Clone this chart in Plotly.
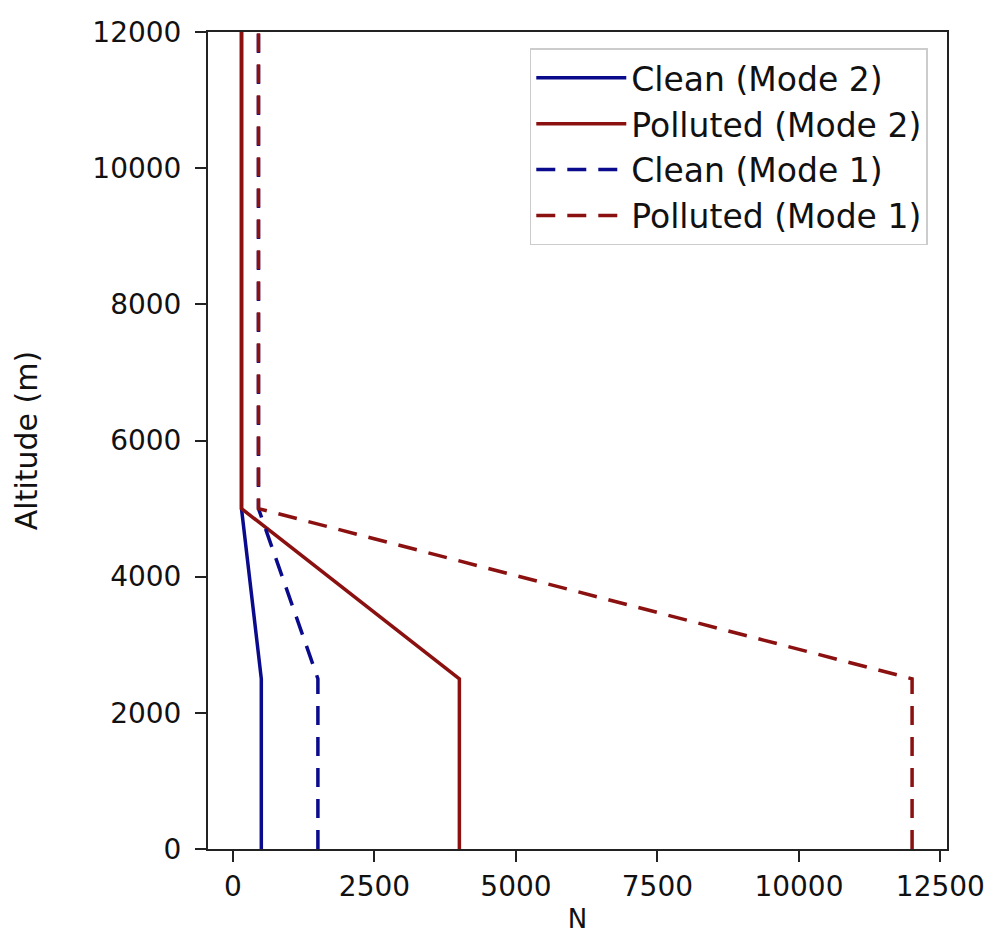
import plotly.graph_objects as go

# Data
altitude = [0, 2500, 5000, 12000]
clean_mode2 = [500, 500, 150, 150]
polluted_mode2 = [4000, 4000, 150, 150]
clean_mode1 = [1500, 1500, 450, 450]
polluted_mode1 = [12000, 12000, 450, 450]

names = ["Clean (Mode 2)", "Polluted (Mode 2)", "Clean (Mode 1)", "Polluted (Mode 1)"]
series = [clean_mode2, polluted_mode2, clean_mode1, polluted_mode1]
colors = ["#0a0a8c", "#8b1010", "#0a0a8c", "#8b1010"]
dashes = ["solid", "solid", "19px,12px", "19px,12px"]

x_ticks = [0, 2500, 5000, 7500, 10000, 12500]
y_ticks = [0, 2000, 4000, 6000, 8000, 10000, 12000]

FONT = "DejaVu Sans"

fig = go.Figure()
for i, (n, s, c, d) in enumerate(zip(names, series, colors, dashes)):
    fig.add_trace(go.Scatter(
        x=s, y=altitude, mode="lines", name=n,
        line=dict(color=c, width=3.5, dash=d),
        legendgroup=f"g{i}",
    ))

fig.update_layout(
    width=1001, height=937,
    margin=dict(l=200, r=62, t=24, b=96),
    paper_bgcolor="white", plot_bgcolor="white",
    font=dict(family=FONT, color="#111", size=28),
    showlegend=True,
    legend=dict(
        x=0.974, y=0.98, xanchor="right", yanchor="top",
        bgcolor="white", bordercolor="#cccccc", borderwidth=1.5,
        font=dict(family=FONT, size=33, color="#111"),
        tracegroupgap=12, traceorder="normal",
        itemwidth=90,
    ),
)

fig.update_xaxes(
    range=[-442, 12617], tickvals=x_ticks,
    ticktext=[str(v) for v in x_ticks],
    showgrid=False, zeroline=False,
    showline=True, mirror=True, linecolor="#222", linewidth=2,
    ticks="outside", ticklen=11, tickwidth=1.5, tickcolor="#222",
    tickfont=dict(family=FONT, size=28, color="#111"),
    title=dict(text="N", font=dict(family=FONT, size=26, color="#111"), standoff=8),
    automargin=False,
)
fig.update_yaxes(
    range=[0, 12000], tickvals=y_ticks,
    ticktext=[str(v) for v in y_ticks],
    showgrid=False, zeroline=False,
    showline=True, mirror=True, linecolor="#222", linewidth=2,
    ticks="outside", ticklen=11, tickwidth=1.5, tickcolor="#222",
    tickfont=dict(family=FONT, size=28, color="#111"),
    ticklabelstandoff=8,
    title=dict(text="Altitude (m)", font=dict(family=FONT, size=30, color="#111"), standoff=46),
    automargin=False,
)

fig.write_html("out.html")
